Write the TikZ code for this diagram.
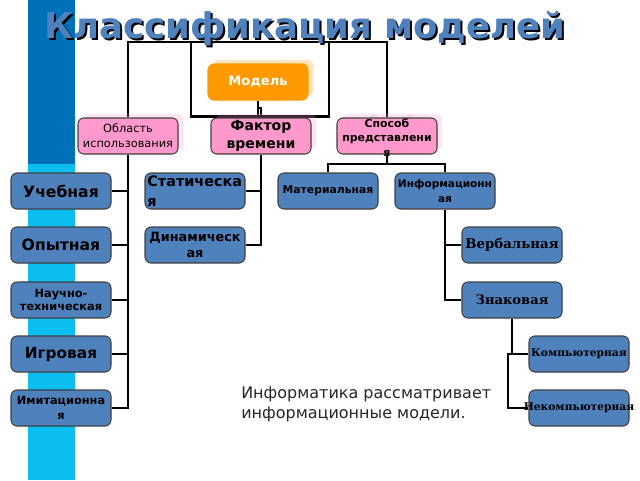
\documentclass[tikz,border=0pt]{standalone}
\usepackage{fontspec}
\setmainfont{DejaVu Sans}
\newfontfamily\serifbold{DejaVu Serif}[BoldFont={DejaVu Serif Bold}]
\usetikzlibrary{shadows}
\usetikzlibrary{backgrounds}
\definecolor{modelblue}{RGB}{79,129,189}
\definecolor{stripdark}{RGB}{0,112,184}
\definecolor{stripcyan}{RGB}{10,190,242}
\definecolor{modelorange}{RGB}{255,153,0}
\definecolor{modelpink}{RGB}{255,153,204}
\tikzstyle{model_box}=[rounded corners=4.5, draw=black!75, line width=0.8pt,
    minimum width=75pt, minimum height=27pt, inner sep=0pt, align=center, text width=75pt]
\tikzstyle{blue_box}=[model_box, fill=modelblue, font=\bfseries]
\tikzstyle{pink_box}=[model_box, fill=modelpink,
    general shadow={fill=modelpink, fill opacity=0.25, shadow xshift=4pt, shadow yshift=3pt}]
\tikzstyle{conn}=[line width=1.9pt, line join=miter]
\begin{document}
\begin{tikzpicture}[x=0.75pt,y=-0.75pt]
\useasboundingbox (0,0) rectangle (640,480);
% title
\node[text=black, font=\bfseries\fontsize{26.6}{30}\selectfont] (titleback) at (307,31) {Классификация моделей};
\node[text=modelblue, font=\bfseries\fontsize{26.6}{30}\selectfont] (title) at (305,29) {Классификация моделей};
% top level
\node[model_box, fill=modelorange, draw=modelorange, text=white, font=\bfseries\fontsize{9.8}{11}\selectfont,
    general shadow={fill=modelorange, fill opacity=0.25, shadow xshift=4pt, shadow yshift=3pt}] (model) at (258,82) {Модель};
\node[pink_box, font=\fontsize{8.5}{11.5}\selectfont] (area) at (128,136) {Область\\использования};
\node[pink_box, font=\bfseries\fontsize{10.5}{13}\selectfont] (time) at (261,136) {Фактор\\времени};
\node[text=black!12, font=\bfseries\fontsize{8.2}{11}\selectfont] (wayghost) at (392,119) {Способ};
\node[pink_box] (way) at (387,136) {};
\node[text width=75pt, align=center, inner sep=0pt, font=\bfseries\fontsize{8.2}{11}\selectfont] (waytext) at (387,137.5) {Способ\\представлени\\я};
% left column
\node[blue_box, font=\bfseries\fontsize{11.7}{13}\selectfont] (study) at (61,191) {Учебная};
\node[blue_box, font=\bfseries\fontsize{11.7}{13}\selectfont] (test) at (61,245) {Опытная};
\node[blue_box, font=\bfseries\fontsize{8.5}{10}\selectfont] (science) at (61,300) {Научно-\\техническая};
\node[blue_box, font=\bfseries\fontsize{11.5}{13}\selectfont] (game) at (61,354) {Игровая};
\node[blue_box, font=\bfseries\fontsize{8.5}{11}\selectfont] (imit) at (61,408) {Имитационна\\я};
% time
\node[blue_box, align=left, font=\bfseries\fontsize{10.8}{15}\selectfont] (static) at (195,191) {\,Статическа\\\,я};
\node[blue_box, font=\bfseries\fontsize{9.6}{12}\selectfont] (dynamic) at (195,245) {Динамическ\\ая};
% way
\node[blue_box, font=\bfseries\fontsize{8.1}{10}\selectfont] (material) at (328,191) {Материальная};
\node[blue_box, font=\bfseries\fontsize{7.9}{11}\selectfont] (inform) at (445,191) {Информационн\\ая};
\node[blue_box, font=\serifbold\bfseries\fontsize{10}{12}\selectfont] (verbal) at (512,245) {Вербальная};
\node[blue_box, font=\serifbold\bfseries\fontsize{9.8}{12}\selectfont] (sign) at (512,300) {Знаковая};
\node[blue_box, font=\serifbold\bfseries\fontsize{8}{10}\selectfont] (comp) at (579,354) {\makebox[75pt][c]{Компьютерная}};
\node[blue_box, font=\serifbold\bfseries\fontsize{8}{10}\selectfont] (noncomp) at (579,408) {\makebox[75pt][c]{Некомпьютерная}};
% note
\node[anchor=north west, align=left, inner sep=0pt, text=black!85, font=\fontsize{12}{15}\selectfont] (note) at (241,387)
    {Информатика рассматривает\\информационные модели.};
% connectors
\begin{pgfonlayer}{background}
\fill[stripdark] (28,0) rectangle (75,164);
\fill[stripcyan] (28,164) rectangle (75,480);
\coordinate (topleft) at (128,42);
\coordinate (topright) at (387,42);
\coordinate (frameleft) at (191,42);
\coordinate (frameright) at (329,42);
\coordinate (framebottom) at (191,116.5);
\coordinate (modelknee) at (258,108);
\coordinate (wayknee) at (387,164);
\coordinate (compknee) at (508,354);
\draw[conn] (way.north) -- (way.north |- topright) -- (topleft) -- (area.north);
\draw[conn] (frameleft) -- (framebottom) -| (frameright);
\draw[conn] (model.south) -- (model.south |- framebottom);
\draw[conn] (model.south) |- (modelknee) -| (time.north);
\draw[conn] (area.south) |- (imit.east);
\foreach \leaf in {study,test,science,game}
  \draw[conn] (\leaf.east) -- (area.south |- \leaf.east);
\draw[conn] (time.south) |- (dynamic.east);
\draw[conn] (static.east) -- (time.south |- static.east);
\draw[conn] (way.south) -- (wayknee);
\draw[conn] (material.north) |- (wayknee) -| (inform.north);
\draw[conn] (inform.south) |- (sign.west);
\draw[conn] (verbal.west) -- (inform.south |- verbal.west);
\draw[conn] (sign.south) |- (comp.west);
\draw[conn] (comp.west) -- (compknee) |- (noncomp.west);
\end{pgfonlayer}
\end{tikzpicture}
\end{document}
